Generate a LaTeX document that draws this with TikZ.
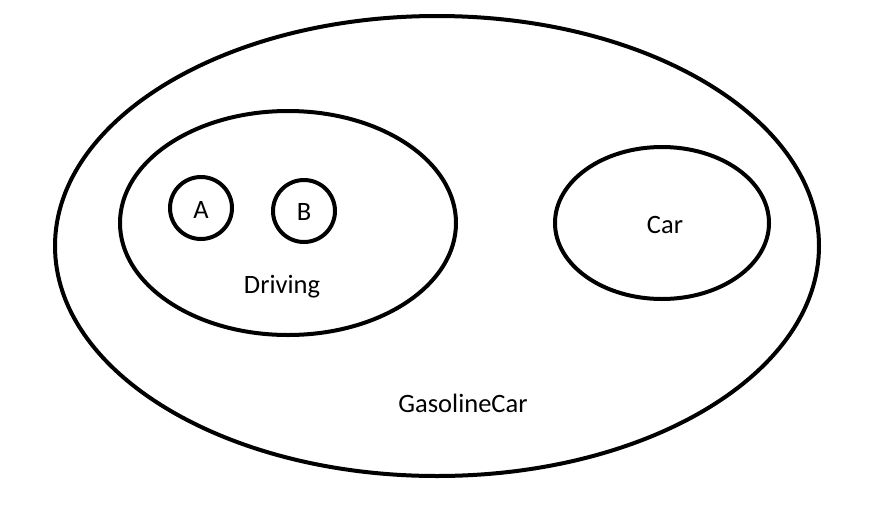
\documentclass[tikz,border=0pt]{standalone}
\usepackage{fontspec}
\setmainfont{Carlito}
\usetikzlibrary{shapes.geometric}

\tikzset{
  setline/.style={draw=black, line width=4pt},
  setlabel/.style={font=\fontsize{26.5}{30}\selectfont, inner sep=0pt}
}

\begin{document}
\begin{tikzpicture}[x=1pt, y=-1pt]
    \useasboundingbox (0,0) rectangle (889,512);

    %% outer and inner sets
    \draw[setline] (437,246) ellipse [x radius=382, y radius=230];
    \draw[setline] (288,223) ellipse [x radius=168, y radius=112];
    \draw[setline] (662,223) ellipse [x radius=107, y radius=76];
    \draw[setline] (201,208) circle [radius=31];
    \draw[setline] (304,211) circle [radius=31];

    %% labels
    \node[setlabel] (a) at (201,210) {A};
    \node[setlabel] (b) at (304,212) {B};
    \node[setlabel] (driving) at (282,287) {Driving};
    \node[setlabel] (car) at (665,225) {Car};
    \node[setlabel] (gasolinecar) at (463,403) {GasolineCar};
  \end{tikzpicture}
\end{document}
